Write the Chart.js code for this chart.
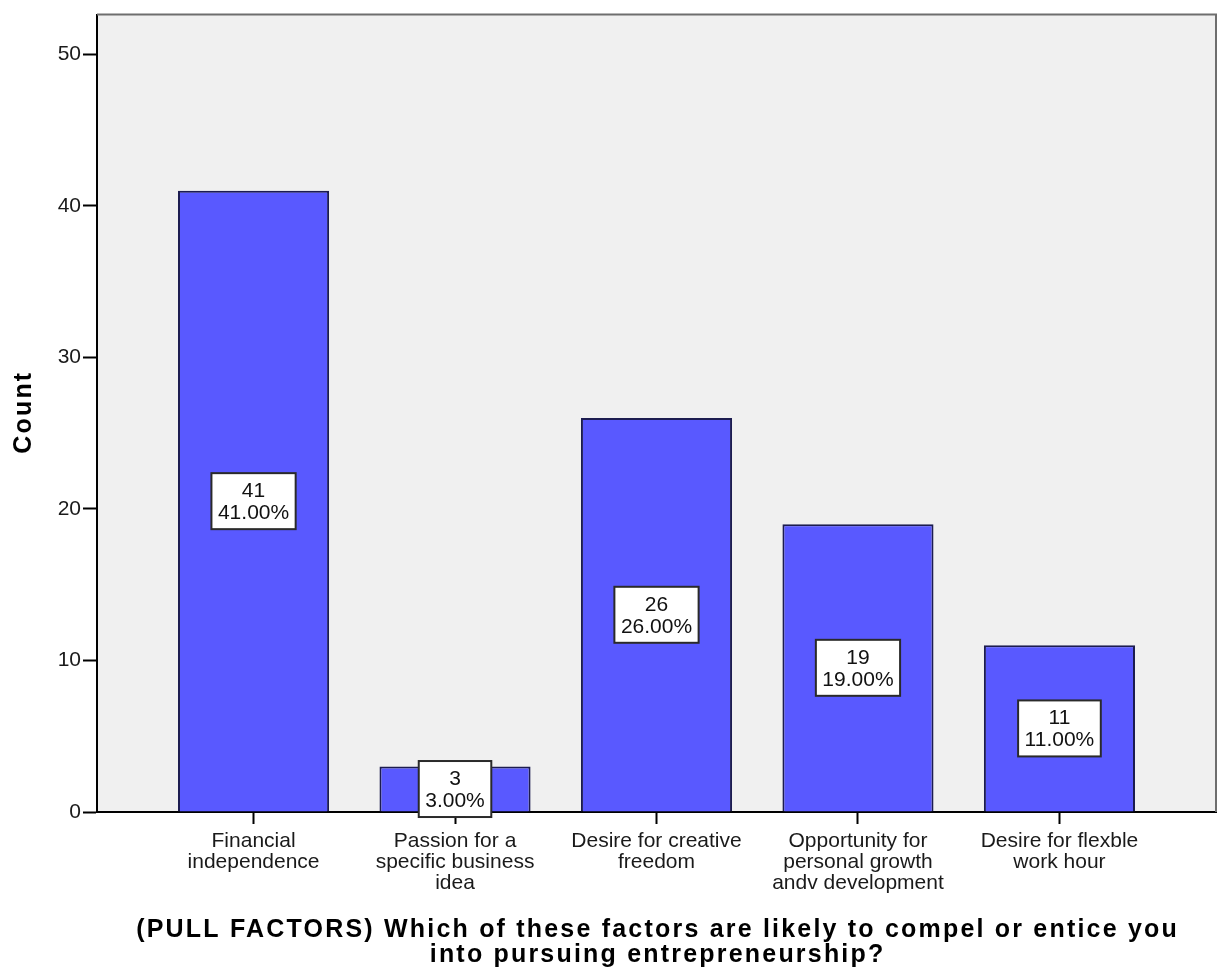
<!DOCTYPE html>
<html>
<head>
<meta charset="utf-8">
<title>Pull factors for entrepreneurship</title>
<script src="https://cdn.jsdelivr.net/npm/chart.js@4/dist/chart.umd.min.js"></script>
<style>
  html, body { margin: 0; padding: 0; background: #ffffff; }
  canvas { display: block; }
</style>
</head>
<body>
<canvas id="chart" width="1221" height="973"></canvas>
<script>
// Response categories (each split over several lines under the axis)
const categories = [
  ['Financial', 'independence'],
  ['Passion for a', 'specific business', 'idea'],
  ['Desire for creative', 'freedom'],
  ['Opportunity for', 'personal growth', 'andv development'],
  ['Desire for flexble', 'work hour']
];
// Number of respondents choosing each factor
const counts = [41, 3, 26, 19, 11];
// Share of all respondents, in percent
const percents = [41.00, 3.00, 26.00, 19.00, 11.00];
// Count axis tick values
const yTicks = [0, 10, 20, 30, 40, 50];
// Axis titles
const xTitle = ['(PULL FACTORS) Which of these factors are likely to compel or entice you',
                'into pursuing entrepreneurship?'];
const yTitle = 'Count';

const FONT = "'Liberation Sans', Arial, Helvetica, sans-serif";
const TITLE_FONT = 'bold 25px ' + FONT;
const TITLE_SPACING = 2.2;

// Plot background and the grey top/right frame lines
const framePlugin = {
  id: 'frame',
  beforeDraw(chart) {
    const { ctx, chartArea: a } = chart;
    ctx.save();
    ctx.fillStyle = '#f0f0f0';
    ctx.fillRect(a.left, a.top, a.right - a.left, a.bottom - a.top);
    ctx.restore();
  },
  afterDraw(chart) {
    const { ctx, chartArea: a } = chart;
    ctx.save();
    ctx.strokeStyle = '#6e6e6e';
    ctx.lineWidth = 2;
    ctx.beginPath();
    ctx.moveTo(a.left, a.top);
    ctx.lineTo(a.right, a.top);
    ctx.lineTo(a.right, a.bottom);
    ctx.stroke();
    ctx.restore();
  }
};

// Bold, slightly tracked axis titles
const axisTitlePlugin = {
  id: 'axisTitles',
  afterDraw(chart) {
    const { ctx, chartArea: a } = chart;
    ctx.save();
    ctx.font = TITLE_FONT;
    ctx.letterSpacing = TITLE_SPACING + 'px';
    ctx.fillStyle = '#000000';
    ctx.textAlign = 'center';
    ctx.textBaseline = 'middle';
    const cx = (a.left + a.right) / 2 + TITLE_SPACING / 2;
    xTitle.forEach((line, k) => {
      ctx.fillText(line, cx, 930 + k * 25);
    });
    ctx.translate(24, (a.top + a.bottom) / 2);
    ctx.rotate(-Math.PI / 2);
    ctx.fillText(yTitle, TITLE_SPACING / 2, 0);
    ctx.restore();
  }
};

// Boxed "count / percent" labels in the middle of each bar
const valueBoxPlugin = {
  id: 'valueBoxes',
  afterDraw(chart) {
    const { ctx } = chart;
    const meta = chart.getDatasetMeta(0);
    ctx.save();
    ctx.font = '21px ' + FONT;
    ctx.textAlign = 'center';
    ctx.textBaseline = 'middle';
    meta.data.forEach((bar, i) => {
      const lines = [String(counts[i]), percents[i].toFixed(2) + '%'];
      const lineH = 22;
      const w = Math.max(...lines.map(t => ctx.measureText(t).width)) + 13;
      const h = lines.length * lineH + 12;
      const cx = bar.x;
      const cy = (bar.y + bar.base) / 2;
      ctx.fillStyle = '#ffffff';
      ctx.fillRect(cx - w / 2, cy - h / 2, w, h);
      ctx.strokeStyle = '#2a2a2a';
      ctx.lineWidth = 2;
      ctx.strokeRect(cx - w / 2, cy - h / 2, w, h);
      ctx.fillStyle = '#111111';
      lines.forEach((t, k) => {
        ctx.fillText(t, cx, cy - h / 2 + 6 + lineH * (k + 0.5) + 1);
      });
    });
    ctx.restore();
  }
};

new Chart(document.getElementById('chart'), {
  type: 'bar',
  data: {
    datasets: [{
      data: counts.map((v, i) => ({ x: i + 1, y: v })),
      backgroundColor: '#5959ff',
      borderColor: '#1c1c50',
      borderWidth: 2,
      borderSkipped: 'bottom',
      barPercentage: 0.75,
      categoryPercentage: 1.0
    }]
  },
  options: {
    responsive: false,
    animation: false,
    devicePixelRatio: 1,
    layout: { padding: { top: 10, right: 5, left: 0, bottom: 0 } },
    plugins: {
      legend: { display: false },
      tooltip: { enabled: false }
    },
    scales: {
      x: {
        type: 'linear',
        offset: false,
        min: 0.223,
        max: 5.777,
        afterBuildTicks(scale) {
          scale.ticks = categories.map((_, i) => ({ value: i + 1 }));
        },
        afterFit(scale) { scale.height = 161; },
        grid: {
          offset: false,
          drawOnChartArea: false,
          drawTicks: true,
          tickLength: 12,
          tickWidth: 2,
          tickColor: '#000000'
        },
        border: { display: true, color: '#000000', width: 2 },
        ticks: {
          autoSkip: false,
          maxRotation: 0,
          padding: 7,
          color: '#1a1a1a',
          font: { family: FONT, size: 21, lineHeight: 0.99 },
          callback: (v) => categories[Math.round(v) - 1] || ''
        },
        title: { display: false }
      },
      y: {
        min: 0,
        max: 52.63,
        afterBuildTicks(scale) {
          scale.ticks = yTicks.map(v => ({ value: v }));
        },
        afterFit(scale) { scale.width = 97; },
        grid: {
          drawOnChartArea: false,
          drawTicks: true,
          tickLength: 14,
          tickWidth: 2,
          tickColor: '#000000'
        },
        border: { display: true, color: '#000000', width: 2 },
        ticks: {
          padding: 2,
          color: '#1a1a1a',
          font: { family: FONT, size: 21 }
        },
        title: { display: false }
      }
    }
  },
  plugins: [framePlugin, valueBoxPlugin, axisTitlePlugin]
});
</script>
</body>
</html>
